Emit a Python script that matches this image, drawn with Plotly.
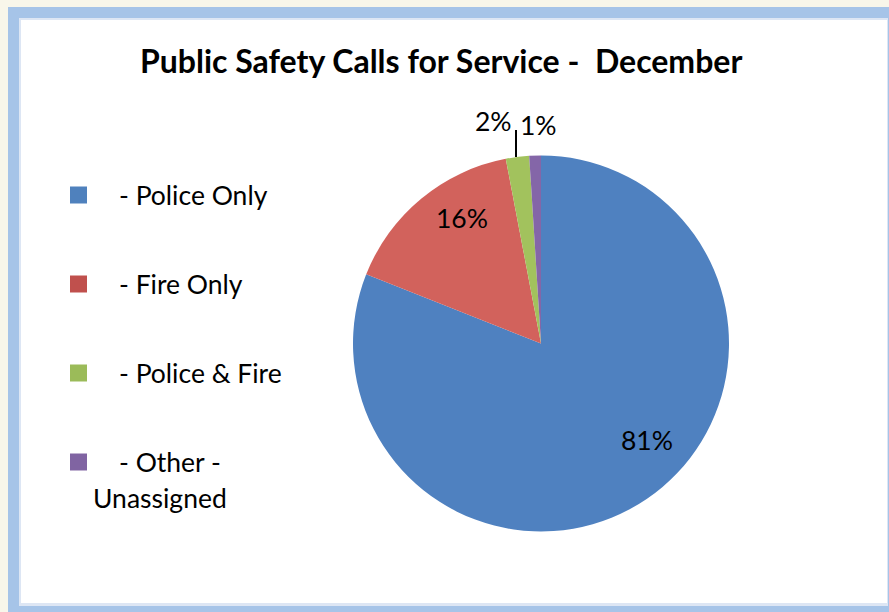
import plotly.graph_objects as go

# ---- data ----
categories = ["- Police Only", "- Fire Only", "- Police & Fire", "- Other -<br>Unassigned"]
values = [81, 16, 2, 1]
colors = ["#4f81bd", "#c0504d", "#9bbb59", "#8064a2"]
slice_colors = ["#4f81c0", "#d2625c", "#a2c25d", "#8466a8"]
title_text = "Public Safety Calls for Service -  December"

W, H = 889, 612
FONT = "Lato"

def px(x):
    return x / W

def py(y):
    return 1 - y / H

# pie geometry (pixels)
cx, cy, r = 541, 343.5, 188

fig = go.Figure()
fig.add_trace(go.Pie(
    labels=categories,
    values=values,
    sort=False,
    direction="clockwise",
    rotation=0,
    marker=dict(colors=slice_colors, line=dict(width=0)),
    textinfo="none",
    hoverinfo="label+percent",
    showlegend=False,
    domain=dict(x=[px(cx - r), px(cx + r)], y=[py(cy + r), py(cy - r)]),
))

shapes = []
# outer frame
shapes.append(dict(type="rect", xref="paper", yref="paper", x0=px(8), x1=px(895), y0=py(620), y1=py(7),
                   fillcolor="#a6c4e8", line=dict(width=0), layer="below"))
shapes.append(dict(type="rect", xref="paper", yref="paper", x0=px(19), x1=px(888), y0=py(606), y1=py(18),
                   fillcolor="#dde6f4", line=dict(width=0), layer="below"))
shapes.append(dict(type="rect", xref="paper", yref="paper", x0=px(21), x1=px(887), y0=py(603), y1=py(20),
                   fillcolor="#ffffff", line=dict(width=0), layer="below"))

annotations = []
# title
annotations.append(dict(text="<b>" + title_text + "</b>", x=px(441), y=py(61), xref="paper", yref="paper",
                        showarrow=False, xanchor="center", yanchor="middle",
                        font=dict(family=FONT, size=32, color="#000000")))

# legend (manual)
LEG_SIZE = 26.5
leg_y = [195, 284, 373, 462]
for cat, col, yy in zip(categories, colors, leg_y):
    shapes.append(dict(type="rect", xref="paper", yref="paper", x0=px(70), x1=px(87), y0=py(yy + 8.5), y1=py(yy - 8.5),
                       fillcolor=col, line=dict(width=0)))
    lines = cat.split("<br>")
    annotations.append(dict(text=lines[0], x=px(117), y=py(yy), xref="paper", yref="paper", showarrow=False,
                            xanchor="left", yanchor="middle", font=dict(family=FONT, size=LEG_SIZE, color="#000")))
    if len(lines) > 1:
        annotations.append(dict(text=lines[1], x=px(91), y=py(yy + 36), xref="paper", yref="paper", showarrow=False,
                                xanchor="left", yanchor="middle", font=dict(family=FONT, size=LEG_SIZE, color="#000")))

# slice labels
label_pos = [(647, 440), (462, 218), (493, 121), (538, 125)]
for v, (lx, ly) in zip(values, label_pos):
    annotations.append(dict(text=f"{v}%", x=px(lx), y=py(ly), xref="paper", yref="paper", showarrow=False,
                            xanchor="center", yanchor="middle", font=dict(family=FONT, size=26.5, color="#000")))

# leader line for 2%
shapes.append(dict(type="line", xref="paper", yref="paper", x0=px(516), x1=px(516), y0=py(130), y1=py(157),
                   line=dict(color="#000000", width=2)))

fig.update_layout(
    width=W, height=H,
    margin=dict(l=0, r=0, t=0, b=0),
    paper_bgcolor="#f8f6ea",
    plot_bgcolor="#ffffff",
    shapes=shapes,
    annotations=annotations,
)

fig.write_html("out.html")
